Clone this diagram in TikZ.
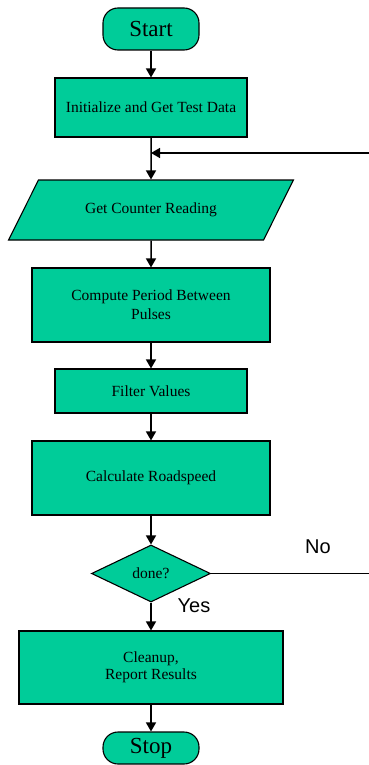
\documentclass[tikz,border=0pt]{standalone}
\usepackage{fontspec}
\setmainfont{Liberation Serif}
\newfontfamily\answerfont{Liberation Sans}
\usetikzlibrary{arrows.meta, shapes.geometric}
\definecolor{boxgreen}{RGB}{0,204,153}
\tikzset{
	block/.style={draw, fill=boxgreen, line width=1.1pt, align=center, inner sep=2pt,
		font=\fontsize{15.5}{19}\selectfont},
	process/.style={block, rectangle},
	io/.style={draw, fill=boxgreen, line width=1.1pt, font=\fontsize{15.5}{19}\selectfont,
		trapezium, trapezium left angle=48.5, trapezium right angle=131.5, trapezium stretches=true},
	decision/.style={block, diamond, inner sep=0pt},
	terminal/.style={block, rectangle, rounded corners=15pt, minimum width=96,
		font=\fontsize{23}{26}\selectfont},
	answer/.style={font=\answerfont\fontsize{20}{22}\selectfont}
}

\begin{document}
\begin{tikzpicture}[x=1pt, y=-1pt, ->, >={Triangle[length=9pt, width=10pt]}, line width=1.5pt]
		\useasboundingbox (0,0) rectangle (369,765);
		\node[terminal, minimum height=42] (start) at (151, 29) {Start};
		\node[process, minimum width=192, minimum height=59] (init) at (151, 107.5) {Initialize and Get Test Data};
		\node[io, minimum width=285, minimum height=60] (read) at (151, 210) {Get Counter Reading};
		\node[process, minimum width=238, minimum height=74] (period) at (151, 305) {Compute Period Between\\Pulses};
		\node[process, minimum width=192, minimum height=44] (filter) at (151, 391) {Filter Values};
		\node[process, minimum width=238, minimum height=74] (speed) at (151, 478) {Calculate Roadspeed};
		\node[decision, minimum width=119, minimum height=57] (done) at (151, 573.5) {done?};
		\node[process, minimum width=264, minimum height=73, font=\fontsize{15.5}{17}\selectfont] (cleanup) at (151, 667.5) {Cleanup,\\Report Results};
		\node[terminal, minimum height=32] (stop) at (151, 748) {Stop};
		
		\coordinate (join) at (151, 153);
		\coordinate (loop) at (369, 153);
		\coordinate (noend) at (369, 573.5);
		\node[answer] (no) at (318, 547) {No};
		\node[answer] (yes) at (194, 606) {Yes};
		
		\draw (init.south) -- (read.north);
		\draw (read.south) -- (period.north);
		\path (start) edge (init)
			(period) edge (filter)
			(filter) edge (speed)
			(speed) edge (done)
			(done) edge (cleanup)
			(cleanup) edge (stop)
			(loop) edge (join)
			(done) edge[-, line width=1pt] (noend);
	\end{tikzpicture}
\end{document}
